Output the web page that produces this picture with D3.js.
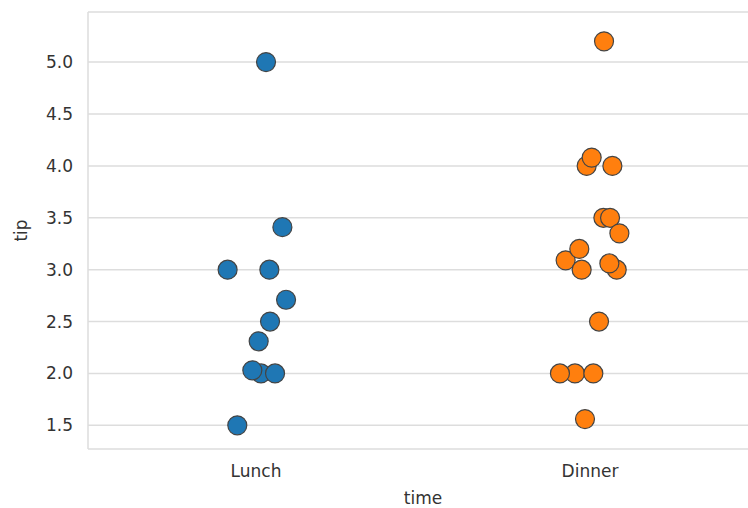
<!DOCTYPE html>
<html><head><meta charset="utf-8">
<script src="https://cdn.jsdelivr.net/npm/d3@7"></script>
<style>body{margin:0;background:#fff}svg{display:block}</style>
</head><body>
<script>
const categories = ["Lunch", "Dinner"];
const colors = ["#1f77b4", "#ff7f0e"];
const lunchTips   = [5.0, 3.41, 3.0, 3.0, 2.71, 2.5, 2.31, 2.0, 2.03, 2.0, 1.5];
const lunchJitter = [0.030, 0.079, -0.085, 0.040, 0.090, 0.042, 0.008, 0.015, -0.011, 0.057, -0.056];
const dinnerTips   = [5.2, 4.0, 4.08, 4.0, 3.5, 3.5, 3.35, 3.09, 3.2, 3.0, 3.0, 3.06, 2.5, 2.0, 2.0, 2.0, 1.56];
const dinnerJitter = [0.042, -0.010, 0.005, 0.067, 0.040, 0.060, 0.088, -0.073, -0.032, -0.025, 0.080, 0.058, 0.027, -0.045, -0.090, 0.010, -0.015];
const yTicks = [1.5, 2.0, 2.5, 3.0, 3.5, 4.0, 4.5, 5.0];

const W = 748, H = 508;
const L = 88, T = 12, R = 757, B = 449;
const svg = d3.select("body").append("svg").attr("width", W).attr("height", H);

const y = d3.scaleLinear().domain([1.272, 5.483]).range([B, T]);
const x = d3.scaleBand().domain(categories).range([L + 1, R]).padding(0);
const unit = x.bandwidth();
const font = "DejaVu Sans, sans-serif";
const grid = "#dddddd";

// gridlines + y labels
const yAxis = d3.axisLeft(y).tickValues(yTicks).tickFormat(d3.format(".1f")).tickSize(0).tickPadding(15);
const gy = svg.append("g").attr("transform", `translate(${L},0)`).call(yAxis);
gy.select(".domain").remove();
gy.selectAll("text").attr("font-family", font).attr("font-size", 17).attr("fill", "#333");
svg.append("g").selectAll("line").data(yTicks).join("line")
  .attr("x1", L).attr("x2", W).attr("y1", d => y(d)).attr("y2", d => y(d))
  .attr("stroke", grid).attr("stroke-width", 1.5);

// spines
svg.append("line").attr("x1", L).attr("x2", W).attr("y1", T).attr("y2", T).attr("stroke", grid).attr("stroke-width", 1.5);
svg.append("line").attr("x1", L).attr("x2", W).attr("y1", B).attr("y2", B).attr("stroke", grid).attr("stroke-width", 1.5);
svg.append("line").attr("x1", L).attr("x2", L).attr("y1", T).attr("y2", B).attr("stroke", grid).attr("stroke-width", 1.5);

// x axis labels
const xAxis = d3.axisBottom(x).tickSize(0).tickPadding(16);
const gx = svg.append("g").attr("transform", `translate(0,${B})`).call(xAxis);
gx.select(".domain").remove();
gx.selectAll("text").attr("font-family", font).attr("font-size", 17).attr("fill", "#333");

// axis titles
svg.append("text").attr("x", (x("Lunch") + x("Dinner")) / 2 + unit / 2).attr("y", 504)
  .attr("text-anchor", "middle").attr("font-family", font).attr("font-size", 17).attr("fill", "#333").text("time");
svg.append("text").attr("transform", `translate(27,${(T + B) / 2}) rotate(-90)`)
  .attr("text-anchor", "middle").attr("font-family", font).attr("font-size", 17).attr("fill", "#333").text("tip");

// points
const series = [
  {cat: "Lunch", tips: lunchTips, jit: lunchJitter, color: colors[0]},
  {cat: "Dinner", tips: dinnerTips, jit: dinnerJitter, color: colors[1]}
];
series.forEach(s => {
  const cx = x(s.cat) + unit / 2;
  svg.append("g").selectAll("circle").data(s.tips.map((v, i) => ({v, j: s.jit[i]}))).join("circle")
    .attr("cx", d => cx + d.j * unit)
    .attr("cy", d => y(d.v))
    .attr("r", 9.5)
    .attr("fill", s.color)
    .attr("stroke", "#444")
    .attr("stroke-width", 1.2);
});
</script>
</body></html>
